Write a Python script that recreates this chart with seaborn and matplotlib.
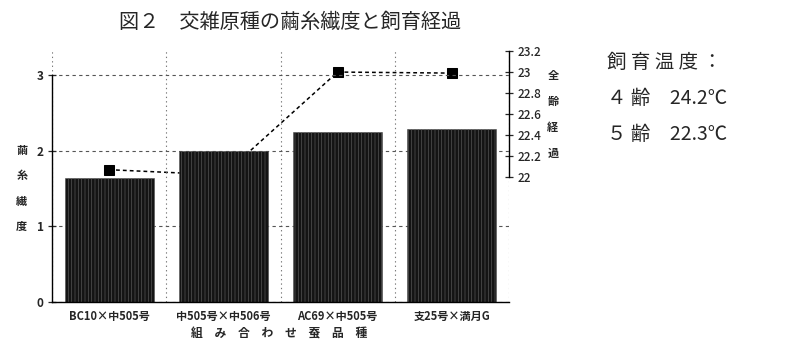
import numpy as np
import matplotlib
matplotlib.use('Agg')
import matplotlib.pyplot as plt
import matplotlib.transforms as mtransforms
import seaborn as sns

# ---- data ----
categories = ["BC10×中505号", "中505号×中506号", "AC69×中505号", "支25号×満月G"]
fineness = [1.64, 1.99, 2.25, 2.29]          # 繭糸繊度 (left axis)
duration = [22.07, 22.02, 23.00, 22.99]      # 全齢経過 (right axis)
left_ticks = [0, 1, 2, 3]
right_ticks = [22.0, 22.2, 22.4, 22.6, 22.8, 23.0, 23.2]
right_tick_labels = ["22", "22.2", "22.4", "22.6", "22.8", "23", "23.2"]
title = "図２　交雑原種の繭糸繊度と飼育経過"
left_label = "繭糸繊度"
right_label = "全齢経過"
x_label = "組　み　合　わ　せ　蚕　品　種"
note_lines = ["飼 育 温 度 ：", "４ 齢　24.2℃", "５ 齢　22.3℃"]

sns.set_style('white')
plt.rcParams['font.family'] = ['Noto Sans CJK JP', 'DejaVu Sans']

W, H = 791, 359
fig = plt.figure(figsize=(W / 100, H / 100), dpi=100)
ax = fig.add_axes([52 / W, 1 - 302 / H, (509 - 52) / W, (302 - 50) / H])
ax2 = ax.twinx()
ax.set_zorder(2)
ax.patch.set_visible(False)

# bars
plt.rcParams['hatch.linewidth'] = 0.5
sns.barplot(x=categories, y=fineness, ax=ax, color='#141414', saturation=1,
            width=0.78, edgecolor='#555555', linewidth=0.4, hatch='|||||')

# line on right axis
sns.lineplot(x=np.arange(len(categories)), y=duration, ax=ax2, color='black',
             linestyle=(0, (2.5, 2)), linewidth=1.1, marker='s', markersize=7,
             markeredgecolor='black', markerfacecolor='black')

ax.set_xlim(-0.5, len(categories) - 0.5)
ax.set_ylim(0, 3.33)
ax.set_yticks(left_ticks)
ax.set_yticklabels([str(t) for t in left_ticks], fontsize=8.5, fontweight='bold')
ax.set_xticks(np.arange(len(categories)))
ax.set_xticklabels(categories, fontsize=8, fontweight='bold')
ax.set_xticks(np.arange(len(categories) + 1) - 0.5, minor=True)
ax.tick_params(axis='x', which='major', length=0, pad=6)
ax.tick_params(axis='x', which='minor', length=6, direction='inout', width=0.9)
ax.tick_params(axis='y', which='major', length=6, direction='inout', width=0.9, pad=3)
ax.set_xlabel('')
ax.set_ylabel('')
for s in ['top', 'right']:
    ax.spines[s].set_visible(False)
ax.spines['left'].set_bounds(0, 3)
ax.spines['left'].set_linewidth(1.0)
ax.spines['bottom'].set_linewidth(1.0)
ax.spines['left'].set_color('black')
ax.spines['bottom'].set_color('black')
ax.grid(axis='y', which='major', linestyle=(0, (3, 3)), color='#555555', linewidth=0.8)
ax.grid(axis='x', which='minor', linestyle=(0, (1.2, 2.8)), color='#777777', linewidth=0.8)
ax.grid(axis='x', which='major', visible=False)

ax2.set_ylim(20.81, 23.21)
ax2.set_yticks(right_ticks)
ax2.set_yticklabels(right_tick_labels, fontsize=8.5, fontweight='medium')
ax2.tick_params(axis='y', length=6, direction='inout', width=0.9, pad=3)
ax2.set_ylabel('')
for s in ['top', 'left', 'bottom']:
    ax2.spines[s].set_visible(False)
ax2.spines['right'].set_bounds(22, 23.2)
ax2.spines['right'].set_color('black')
ax2.spines['right'].set_linewidth(1.0)
ax2.grid(False)

# stacked axis labels
tl = mtransforms.blended_transform_factory(ax.transAxes, ax.transData)
for ch, yv in zip(left_label, np.linspace(2, 1, len(left_label))):
    ax.text(-0.066, yv, ch, transform=tl, ha='center', va='center',
            fontsize=8, fontweight='bold')
tr = mtransforms.blended_transform_factory(ax2.transAxes, ax2.transData)
for ch, yv in zip(right_label, np.linspace(22.97, 22.23, len(right_label))):
    ax2.text(1.096, yv, ch, transform=tr, ha='center', va='center',
             fontsize=8, fontweight='bold')

fig.text(279 / W, 1 - 334 / H, x_label, ha='center', va='center',
         fontsize=8.5, fontweight='bold')
fig.text(290 / W, 1 - 22 / H, title, ha='center', va='center', fontsize=14.5)

for line, y in zip(note_lines, [62, 98, 135]):
    fig.text(607 / W, 1 - y / H, line, ha='left', va='center', fontsize=14)

fig.savefig('out.png', dpi=100)
